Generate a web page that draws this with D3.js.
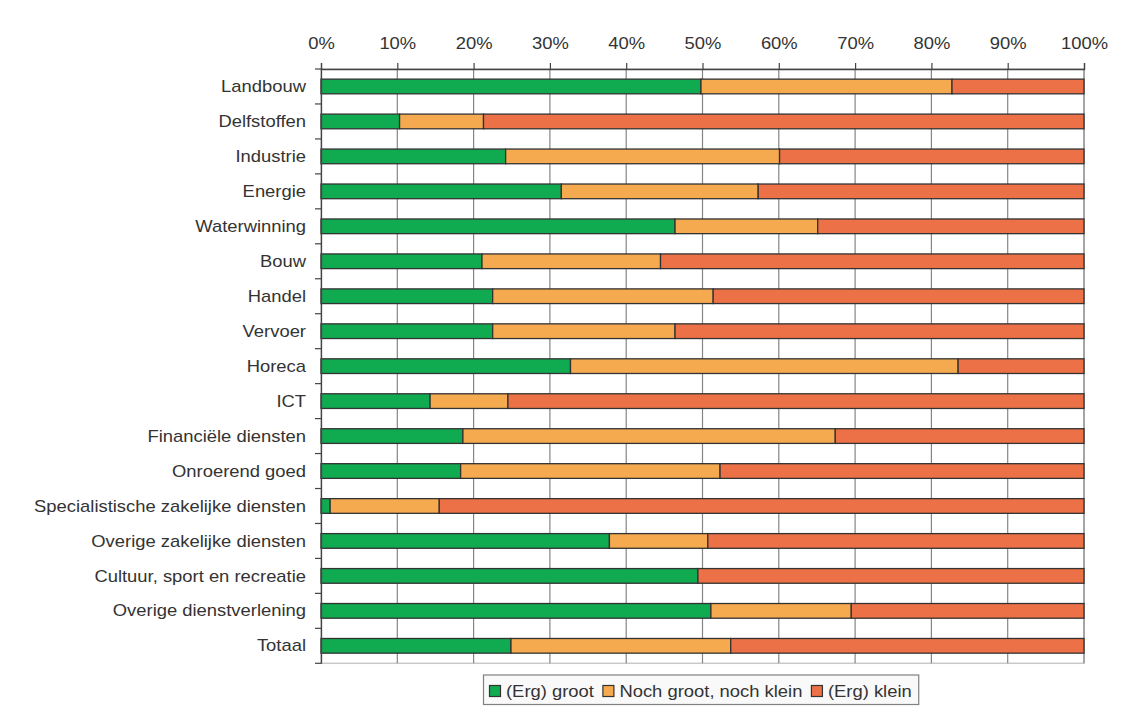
<!DOCTYPE html>
<html><head><meta charset="utf-8">
<script src="https://cdn.jsdelivr.net/npm/d3@7/dist/d3.min.js"></script>
<style>
html,body{margin:0;padding:0;background:#fff;}
text{font-family:"Liberation Sans",Arial,sans-serif;}
</style></head>
<body><svg id="c" width="1123" height="707"></svg>
<script>
const categories = ["Landbouw","Delfstoffen","Industrie","Energie","Waterwinning","Bouw","Handel","Vervoer","Horeca","ICT","Financiële diensten","Onroerend goed","Specialistische zakelijke diensten","Overige zakelijke diensten","Cultuur, sport en recreatie","Overige dienstverlening","Totaal"];
const groot  = [49.8,10.3,24.2,31.5,46.4,21.1,22.5,22.5,32.7,14.3,18.6,18.3,1.2,37.8,49.4,51.1,24.9];
const neutraal = [32.9,11.0,35.9,25.8,18.7,23.4,28.9,23.9,50.8,10.2,48.8,34.0,14.3,12.9,0.0,18.4,28.8];
const klein = groot.map((g,i)=>+(100-g-neutraal[i]).toFixed(1));
const seriesNames = ["(Erg) groot","Noch groot, noch klein","(Erg) klein"];
const colors = ["#10aa50","#f5aa50","#ed7146"];
const tickValues = [0,10,20,30,40,50,60,70,80,90,100];

const SX = 1.15; // horizontal text stretch
const svg = d3.select("#c");
const pLeft=321, pRight=1084, pTop=69, pBottom=663.3;
const x = d3.scaleLinear().domain([0,100]).range([pLeft,pRight]);
const y = d3.scaleBand().domain(categories).range([pTop,pBottom]).paddingInner(0.58).paddingOuter(0.29);

// plot border (light)
svg.append("rect").attr("x",pLeft).attr("y",pTop).attr("width",pRight-pLeft).attr("height",pBottom-pTop)
  .attr("fill","none").attr("stroke","#c8c8c8").attr("stroke-width",1.5);
// gridlines
svg.append("g").selectAll("line").data(tickValues.slice(1)).join("line")
  .attr("x1",d=>x(d)).attr("x2",d=>x(d)).attr("y1",pTop).attr("y2",pBottom)
  .attr("stroke","#858585").attr("stroke-width",1.2);

// bars
const rows = categories.map((c,i)=>({c, vals:[groot[i],neutraal[i],klein[i]]}));
const g = svg.append("g");
rows.forEach(r=>{
  let acc=0;
  r.vals.forEach((v,j)=>{
    if(v<=0){return;}
    g.append("rect").attr("x",x(acc)).attr("y",y(r.c)).attr("width",x(acc+v)-x(acc)).attr("height",y.bandwidth())
      .attr("fill",colors[j]).attr("stroke","#333").attr("stroke-width",1.3);
    acc+=v;
  });
});

// top axis
const xa = d3.axisTop(x).tickValues(tickValues).tickFormat(d=>d+"%").tickSize(6).tickPadding(14.5);
const gx = svg.append("g").attr("transform",`translate(0,${pTop})`).call(xa);
gx.select(".domain").attr("stroke","#444").attr("stroke-width",1.3);
gx.selectAll(".tick line").attr("stroke","#444").attr("stroke-width",1.2);
gx.selectAll("text").attr("fill","#333").style("font-size","16px").style("font-family","'Liberation Sans',Arial,sans-serif")
  .attr("transform",`scale(${SX},1)`);

// left axis with ticks at band boundaries
const ya = d3.axisLeft(y).tickSize(0).tickPadding(15);
const gy = svg.append("g").attr("transform",`translate(${pLeft},0)`).call(ya);
gy.select(".domain").attr("stroke","#444").attr("stroke-width",1.3);
gy.selectAll("text").attr("fill","#333").style("font-size","16px").style("font-family","'Liberation Sans',Arial,sans-serif")
  .attr("dy","0.35em").attr("x",-15/SX).attr("transform",`scale(${SX},1)`);
const bounds = d3.range(categories.length+1).map(i=>pTop+i*(pBottom-pTop)/categories.length);
svg.append("g").selectAll("line").data(bounds).join("line")
  .attr("x1",pLeft-6).attr("x2",pLeft).attr("y1",d=>d).attr("y2",d=>d)
  .attr("stroke","#444").attr("stroke-width",1.2);

// legend
const lg = svg.append("g");
const lbox = lg.append("rect").attr("x",483.5).attr("y",675).attr("width",438).attr("height",29.5)
  .attr("fill","#f9f9f9").attr("stroke","#808080").attr("stroke-width",1.2);
let lx = 489.5;
seriesNames.forEach((n,i)=>{
  lg.append("rect").attr("x",lx).attr("y",685.5).attr("width",11).attr("height",11)
    .attr("fill",colors[i]).attr("stroke","#333").attr("stroke-width",1.2);
  const t = lg.append("text").attr("x",0).attr("y",0).attr("fill","#333").style("font-size","16px").text(n)
    .attr("transform",`translate(${lx+16.5},697) scale(${SX},1)`);
  const w = t.node().getComputedTextLength()*SX;
  lx = lx+16.5+w+9;
});
lbox.attr("width", lx-9+7-483.5);
</script></body></html>
